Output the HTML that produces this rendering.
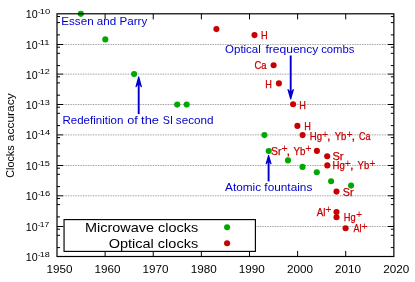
<!DOCTYPE html>
<html><head><meta charset="utf-8"><title>Clocks accuracy</title>
<style>html,body{margin:0;padding:0;background:#fff}body{width:415px;height:282px;overflow:hidden}</style></head>
<body>
<svg width="415" height="282" viewBox="0 0 415 282" style="display:block;will-change:transform;font-family:'Liberation Sans',sans-serif">
<rect width="415" height="282" fill="#fff"/>
<line x1="63.00" y1="44.50" x2="387.85" y2="44.50" stroke="#000" stroke-opacity="0.5" stroke-width="0.9" stroke-dasharray="0.8 0.87"/>
<line x1="63.00" y1="74.10" x2="387.85" y2="74.10" stroke="#000" stroke-opacity="0.5" stroke-width="0.9" stroke-dasharray="0.8 0.87"/>
<line x1="63.00" y1="104.50" x2="387.85" y2="104.50" stroke="#000" stroke-opacity="0.5" stroke-width="0.9" stroke-dasharray="0.8 0.87"/>
<line x1="63.00" y1="134.90" x2="387.85" y2="134.90" stroke="#000" stroke-opacity="0.5" stroke-width="0.9" stroke-dasharray="0.8 0.87"/>
<line x1="63.00" y1="165.50" x2="387.85" y2="165.50" stroke="#000" stroke-opacity="0.5" stroke-width="0.9" stroke-dasharray="0.8 0.87"/>
<line x1="63.00" y1="195.80" x2="387.85" y2="195.80" stroke="#000" stroke-opacity="0.5" stroke-width="0.9" stroke-dasharray="0.8 0.87"/>
<line x1="63.00" y1="226.50" x2="387.85" y2="226.50" stroke="#000" stroke-opacity="0.5" stroke-width="0.9" stroke-dasharray="0.8 0.87"/>
<path d="M57.00 34.90h3 M393.85 34.90h-3 M57.00 22.60h3 M393.85 22.60h-3 M57.00 16.50h3 M393.85 16.50h-3 M57.00 44.50h6 M393.85 44.50h-6 M57.00 65.60h3 M393.85 65.60h-3 M57.00 53.30h3 M393.85 53.30h-3 M57.00 47.20h3 M393.85 47.20h-3 M57.00 74.10h6 M393.85 74.10h-6 M57.00 95.20h3 M393.85 95.20h-3 M57.00 82.90h3 M393.85 82.90h-3 M57.00 76.80h3 M393.85 76.80h-3 M57.00 104.50h6 M393.85 104.50h-6 M57.00 125.60h3 M393.85 125.60h-3 M57.00 113.30h3 M393.85 113.30h-3 M57.00 107.20h3 M393.85 107.20h-3 M57.00 134.90h6 M393.85 134.90h-6 M57.00 156.00h3 M393.85 156.00h-3 M57.00 143.70h3 M393.85 143.70h-3 M57.00 137.60h3 M393.85 137.60h-3 M57.00 165.50h6 M393.85 165.50h-6 M57.00 186.60h3 M393.85 186.60h-3 M57.00 174.30h3 M393.85 174.30h-3 M57.00 168.20h3 M393.85 168.20h-3 M57.00 195.80h6 M393.85 195.80h-6 M57.00 216.90h3 M393.85 216.90h-3 M57.00 204.60h3 M393.85 204.60h-3 M57.00 198.50h3 M393.85 198.50h-3 M57.00 226.50h6 M393.85 226.50h-6 M57.00 247.60h3 M393.85 247.60h-3 M57.00 235.30h3 M393.85 235.30h-3 M57.00 229.20h3 M393.85 229.20h-3 M105.12 256.50v-5.6 M105.12 13.80v5.6 M153.24 256.50v-5.6 M153.24 13.80v5.6 M201.36 256.50v-5.6 M201.36 13.80v5.6 M249.49 256.50v-5.6 M249.49 13.80v5.6 M297.61 256.50v-5.6 M297.61 13.80v5.6 M345.73 256.50v-5.6 M345.73 13.80v5.6" stroke="#000" stroke-width="1" fill="none"/>
<text x="25.7" y="18.20" font-size="10.2" textLength="11.9" lengthAdjust="spacingAndGlyphs" fill="#000">10</text>
<text x="37.9" y="14.10" font-size="8.0" textLength="2.4" lengthAdjust="spacingAndGlyphs" fill="#000">-</text>
<text x="39.7" y="14.10" font-size="8.0" textLength="10.5" lengthAdjust="spacingAndGlyphs" fill="#000">10</text>
<text x="25.7" y="48.90" font-size="10.2" textLength="11.9" lengthAdjust="spacingAndGlyphs" fill="#000">10</text>
<text x="37.9" y="44.80" font-size="8.0" textLength="2.4" lengthAdjust="spacingAndGlyphs" fill="#000">-</text>
<text x="39.7" y="44.80" font-size="8.0" textLength="9.8" lengthAdjust="spacingAndGlyphs" fill="#000">11</text>
<text x="25.7" y="78.50" font-size="10.2" textLength="11.9" lengthAdjust="spacingAndGlyphs" fill="#000">10</text>
<text x="37.9" y="74.40" font-size="8.0" textLength="2.4" lengthAdjust="spacingAndGlyphs" fill="#000">-</text>
<text x="39.7" y="74.40" font-size="8.0" textLength="10.2" lengthAdjust="spacingAndGlyphs" fill="#000">12</text>
<text x="25.7" y="108.90" font-size="10.2" textLength="11.9" lengthAdjust="spacingAndGlyphs" fill="#000">10</text>
<text x="37.9" y="104.80" font-size="8.0" textLength="2.4" lengthAdjust="spacingAndGlyphs" fill="#000">-</text>
<text x="39.7" y="104.80" font-size="8.0" textLength="10.2" lengthAdjust="spacingAndGlyphs" fill="#000">13</text>
<text x="25.7" y="139.30" font-size="10.2" textLength="11.9" lengthAdjust="spacingAndGlyphs" fill="#000">10</text>
<text x="37.9" y="135.20" font-size="8.0" textLength="2.4" lengthAdjust="spacingAndGlyphs" fill="#000">-</text>
<text x="39.7" y="135.20" font-size="8.0" textLength="10.4" lengthAdjust="spacingAndGlyphs" fill="#000">14</text>
<text x="25.7" y="169.90" font-size="10.2" textLength="11.9" lengthAdjust="spacingAndGlyphs" fill="#000">10</text>
<text x="37.9" y="165.80" font-size="8.0" textLength="2.4" lengthAdjust="spacingAndGlyphs" fill="#000">-</text>
<text x="39.7" y="165.80" font-size="8.0" textLength="10.2" lengthAdjust="spacingAndGlyphs" fill="#000">15</text>
<text x="25.7" y="200.20" font-size="10.2" textLength="11.9" lengthAdjust="spacingAndGlyphs" fill="#000">10</text>
<text x="37.9" y="196.10" font-size="8.0" textLength="2.4" lengthAdjust="spacingAndGlyphs" fill="#000">-</text>
<text x="39.7" y="196.10" font-size="8.0" textLength="10.4" lengthAdjust="spacingAndGlyphs" fill="#000">16</text>
<text x="25.7" y="230.90" font-size="10.2" textLength="11.9" lengthAdjust="spacingAndGlyphs" fill="#000">10</text>
<text x="37.9" y="226.80" font-size="8.0" textLength="2.4" lengthAdjust="spacingAndGlyphs" fill="#000">-</text>
<text x="39.7" y="226.80" font-size="8.0" textLength="9.6" lengthAdjust="spacingAndGlyphs" fill="#000">17</text>
<text x="25.7" y="260.90" font-size="10.2" textLength="11.9" lengthAdjust="spacingAndGlyphs" fill="#000">10</text>
<text x="37.9" y="256.80" font-size="8.0" textLength="2.4" lengthAdjust="spacingAndGlyphs" fill="#000">-</text>
<text x="39.7" y="256.80" font-size="8.0" textLength="10.1" lengthAdjust="spacingAndGlyphs" fill="#000">18</text>
<text x="46.40" y="272.9" font-size="10.2" textLength="26" lengthAdjust="spacingAndGlyphs" fill="#000">1950</text>
<text x="94.52" y="272.9" font-size="10.2" textLength="26" lengthAdjust="spacingAndGlyphs" fill="#000">1960</text>
<text x="142.64" y="272.9" font-size="10.2" textLength="26" lengthAdjust="spacingAndGlyphs" fill="#000">1970</text>
<text x="190.76" y="272.9" font-size="10.2" textLength="26" lengthAdjust="spacingAndGlyphs" fill="#000">1980</text>
<text x="238.89" y="272.9" font-size="10.2" textLength="26" lengthAdjust="spacingAndGlyphs" fill="#000">1990</text>
<text x="287.01" y="272.9" font-size="10.2" textLength="26" lengthAdjust="spacingAndGlyphs" fill="#000">2000</text>
<text x="335.13" y="272.9" font-size="10.2" textLength="26" lengthAdjust="spacingAndGlyphs" fill="#000">2010</text>
<text x="383.25" y="272.9" font-size="10.2" textLength="26" lengthAdjust="spacingAndGlyphs" fill="#000">2020</text>
<text transform="translate(14.1,177.8) rotate(-90)" font-size="10.2" textLength="32.4" lengthAdjust="spacingAndGlyphs" fill="#000">Clocks</text>
<text transform="translate(14.1,141.2) rotate(-90)" font-size="10.2" textLength="47.9" lengthAdjust="spacingAndGlyphs" fill="#000">accuracy</text>
<line x1="138.7" y1="114.1" x2="138.7" y2="82.80" stroke="#0000cd" stroke-width="1.9"/><path d="M138.7 76.86 L136.00 86.76 L138.7 83.24 L141.40 86.76Z" fill="#0000cd" stroke="#0000cd" stroke-width="1.1" stroke-linejoin="round"/>
<line x1="290.7" y1="55.5" x2="290.7" y2="93.36" stroke="#0000cd" stroke-width="1.9"/><path d="M290.7 98.98 L288.00 89.62 L290.7 92.94 L293.40 89.62Z" fill="#0000cd" stroke="#0000cd" stroke-width="1.1" stroke-linejoin="round"/>
<line x1="268.6" y1="181.4" x2="268.6" y2="160.38" stroke="#0000cd" stroke-width="1.9"/><path d="M268.6 155.36 L266.20 163.73 L268.6 160.75 L271.00 163.73Z" fill="#0000cd" stroke="#0000cd" stroke-width="1.1" stroke-linejoin="round"/>
<text x="61.3" y="25.1" font-size="10.2" textLength="85.9" lengthAdjust="spacingAndGlyphs" fill="#0000cd">Essen and Parry</text>
<text x="62.5" y="124.4" font-size="10.2" textLength="60.8" lengthAdjust="spacingAndGlyphs" fill="#0000cd">Redefinition</text>
<text x="127.2" y="124.4" font-size="10.2" textLength="10.6" lengthAdjust="spacingAndGlyphs" fill="#0000cd">of</text>
<text x="141.1" y="124.4" font-size="10.2" textLength="17.9" lengthAdjust="spacingAndGlyphs" fill="#0000cd">the</text>
<text x="162.7" y="124.4" font-size="10.2" textLength="10.2" lengthAdjust="spacingAndGlyphs" fill="#0000cd">SI</text>
<text x="175.8" y="124.4" font-size="10.2" textLength="37.7" lengthAdjust="spacingAndGlyphs" fill="#0000cd">second</text>
<text x="225.1" y="53.0" font-size="10.2" textLength="35.7" lengthAdjust="spacingAndGlyphs" fill="#0000cd">Optical</text>
<text x="265.4" y="53.0" font-size="10.2" textLength="53.0" lengthAdjust="spacingAndGlyphs" fill="#0000cd">frequency</text>
<text x="321.2" y="53.0" font-size="10.2" textLength="33.3" lengthAdjust="spacingAndGlyphs" fill="#0000cd">combs</text>
<text x="225.0" y="191.3" font-size="10.2" textLength="87.3" lengthAdjust="spacingAndGlyphs" fill="#0000cd">Atomic fountains</text>
<circle cx="80.8" cy="13.85" r="3.05" fill="#00a800"/>
<circle cx="105.3" cy="39.4" r="3.05" fill="#00a800"/>
<circle cx="134.1" cy="74.1" r="3.05" fill="#00a800"/>
<circle cx="177.2" cy="104.6" r="3.05" fill="#00a800"/>
<circle cx="186.7" cy="104.6" r="3.05" fill="#00a800"/>
<circle cx="264.4" cy="135.1" r="3.05" fill="#00a800"/>
<circle cx="268.7" cy="151.0" r="3.05" fill="#00a800"/>
<circle cx="288.0" cy="160.4" r="3.05" fill="#00a800"/>
<circle cx="302.5" cy="166.9" r="3.05" fill="#00a800"/>
<circle cx="316.8" cy="172.3" r="3.05" fill="#00a800"/>
<circle cx="331.1" cy="181.3" r="3.05" fill="#00a800"/>
<circle cx="351.1" cy="185.6" r="3.05" fill="#00a800"/>
<circle cx="216.4" cy="29.1" r="3.05" fill="#c80000"/>
<circle cx="254.5" cy="35.1" r="3.05" fill="#c80000"/>
<circle cx="273.6" cy="65.3" r="3.05" fill="#c80000"/>
<circle cx="278.9" cy="83.4" r="3.05" fill="#c80000"/>
<circle cx="293.1" cy="104.3" r="3.05" fill="#c80000"/>
<circle cx="297.4" cy="125.9" r="3.05" fill="#c80000"/>
<circle cx="302.6" cy="135.1" r="3.05" fill="#c80000"/>
<circle cx="316.9" cy="150.9" r="3.05" fill="#c80000"/>
<circle cx="327.2" cy="156.3" r="3.05" fill="#c80000"/>
<circle cx="327.3" cy="165.4" r="3.05" fill="#c80000"/>
<circle cx="336.5" cy="191.6" r="3.05" fill="#c80000"/>
<circle cx="336.5" cy="211.95" r="3.05" fill="#c80000"/>
<circle cx="336.5" cy="217.3" r="3.05" fill="#c80000"/>
<circle cx="345.6" cy="228.2" r="3.05" fill="#c80000"/>
<rect x="57.00" y="13.80" width="336.85" height="242.70" fill="none" stroke="#000" stroke-width="1.2"/>
<text x="261.1" y="38.9" font-size="10.2" textLength="6.6" lengthAdjust="spacingAndGlyphs" fill="#c80000" stroke="#c80000" stroke-width="0.25">H</text>
<text x="254.4" y="68.5" font-size="10.2" textLength="12.0" lengthAdjust="spacingAndGlyphs" fill="#c80000" stroke="#c80000" stroke-width="0.25">Ca</text>
<text x="265.3" y="87.9" font-size="10.2" textLength="6.6" lengthAdjust="spacingAndGlyphs" fill="#c80000" stroke="#c80000" stroke-width="0.25">H</text>
<text x="299.3" y="108.9" font-size="10.2" textLength="6.6" lengthAdjust="spacingAndGlyphs" fill="#c80000" stroke="#c80000" stroke-width="0.25">H</text>
<text x="304.3" y="130.1" font-size="10.2" textLength="6.6" lengthAdjust="spacingAndGlyphs" fill="#c80000" stroke="#c80000" stroke-width="0.25">H</text>
<text x="309.7" y="140.3" font-size="10.2" textLength="12.3" lengthAdjust="spacingAndGlyphs" fill="#c80000" stroke="#c80000" stroke-width="0.25">Hg</text>
<text x="322.00" y="137.80" font-size="10.4" textLength="6.2" lengthAdjust="spacingAndGlyphs" fill="#c80000">+</text>
<text x="327.10" y="140.30" font-size="10.799999999999999" textLength="3.6" lengthAdjust="spacingAndGlyphs" fill="#c80000" stroke="#c80000" stroke-width="0.25">,</text>
<text x="334.8" y="140.3" font-size="10.2" textLength="11.6" lengthAdjust="spacingAndGlyphs" fill="#c80000" stroke="#c80000" stroke-width="0.25">Yb</text>
<text x="346.50" y="137.80" font-size="10.4" textLength="6.2" lengthAdjust="spacingAndGlyphs" fill="#c80000">+</text>
<text x="351.40" y="140.30" font-size="10.799999999999999" textLength="3.6" lengthAdjust="spacingAndGlyphs" fill="#c80000" stroke="#c80000" stroke-width="0.25">,</text>
<text x="359.0" y="140.3" font-size="10.2" textLength="11.4" lengthAdjust="spacingAndGlyphs" fill="#c80000" stroke="#c80000" stroke-width="0.25">Ca</text>
<text x="271.0" y="154.8" font-size="10.2" textLength="10.5" lengthAdjust="spacingAndGlyphs" fill="#c80000" stroke="#c80000" stroke-width="0.25">Sr</text>
<text x="281.50" y="152.30" font-size="10.4" textLength="6.2" lengthAdjust="spacingAndGlyphs" fill="#c80000">+</text>
<text x="286.60" y="154.80" font-size="10.799999999999999" textLength="3.6" lengthAdjust="spacingAndGlyphs" fill="#c80000" stroke="#c80000" stroke-width="0.25">,</text>
<text x="293.6" y="154.8" font-size="10.2" textLength="11.9" lengthAdjust="spacingAndGlyphs" fill="#c80000" stroke="#c80000" stroke-width="0.25">Yb</text>
<text x="305.30" y="152.30" font-size="10.4" textLength="6.2" lengthAdjust="spacingAndGlyphs" fill="#c80000">+</text>
<text x="332.4" y="160.0" font-size="10.2" textLength="11.1" lengthAdjust="spacingAndGlyphs" fill="#c80000" stroke="#c80000" stroke-width="0.25">Sr</text>
<text x="332.5" y="169.3" font-size="10.2" textLength="12.3" lengthAdjust="spacingAndGlyphs" fill="#c80000" stroke="#c80000" stroke-width="0.25">Hg</text>
<text x="344.80" y="166.80" font-size="10.4" textLength="6.2" lengthAdjust="spacingAndGlyphs" fill="#c80000">+</text>
<text x="349.90" y="169.30" font-size="10.799999999999999" textLength="3.6" lengthAdjust="spacingAndGlyphs" fill="#c80000" stroke="#c80000" stroke-width="0.25">,</text>
<text x="357.6" y="169.3" font-size="10.2" textLength="11.6" lengthAdjust="spacingAndGlyphs" fill="#c80000" stroke="#c80000" stroke-width="0.25">Yb</text>
<text x="369.30" y="166.80" font-size="10.4" textLength="6.2" lengthAdjust="spacingAndGlyphs" fill="#c80000">+</text>
<text x="342.8" y="195.5" font-size="10.2" textLength="10.8" lengthAdjust="spacingAndGlyphs" fill="#c80000" stroke="#c80000" stroke-width="0.25">Sr</text>
<text x="316.8" y="216.0" font-size="10.2" textLength="8.7" lengthAdjust="spacingAndGlyphs" fill="#c80000" stroke="#c80000" stroke-width="0.25">Al</text>
<text x="325.30" y="212.60" font-size="10.4" textLength="6.2" lengthAdjust="spacingAndGlyphs" fill="#c80000">+</text>
<text x="343.7" y="220.8" font-size="10.2" textLength="11.9" lengthAdjust="spacingAndGlyphs" fill="#c80000" stroke="#c80000" stroke-width="0.25">Hg</text>
<text x="356.00" y="218.30" font-size="10.4" textLength="6.2" lengthAdjust="spacingAndGlyphs" fill="#c80000">+</text>
<text x="353.5" y="232.4" font-size="10.2" textLength="8.0" lengthAdjust="spacingAndGlyphs" fill="#c80000" stroke="#c80000" stroke-width="0.25">Al</text>
<text x="361.20" y="229.90" font-size="10.4" textLength="6.2" lengthAdjust="spacingAndGlyphs" fill="#c80000">+</text>
<rect x="64.05" y="219.6" width="191.35" height="31.8" fill="#fff" stroke="#000" stroke-width="1.15"/>
<text x="84.9" y="231.9" font-size="13.2" textLength="113.3" lengthAdjust="spacingAndGlyphs" fill="#000">Microwave clocks</text>
<text x="108.7" y="248.0" font-size="13.2" textLength="89.5" lengthAdjust="spacingAndGlyphs" fill="#000">Optical clocks</text>
<circle cx="227.1" cy="227.3" r="3.05" fill="#00a800"/>
<circle cx="227.1" cy="243.3" r="3.05" fill="#c80000"/>
</svg>
</body></html>
